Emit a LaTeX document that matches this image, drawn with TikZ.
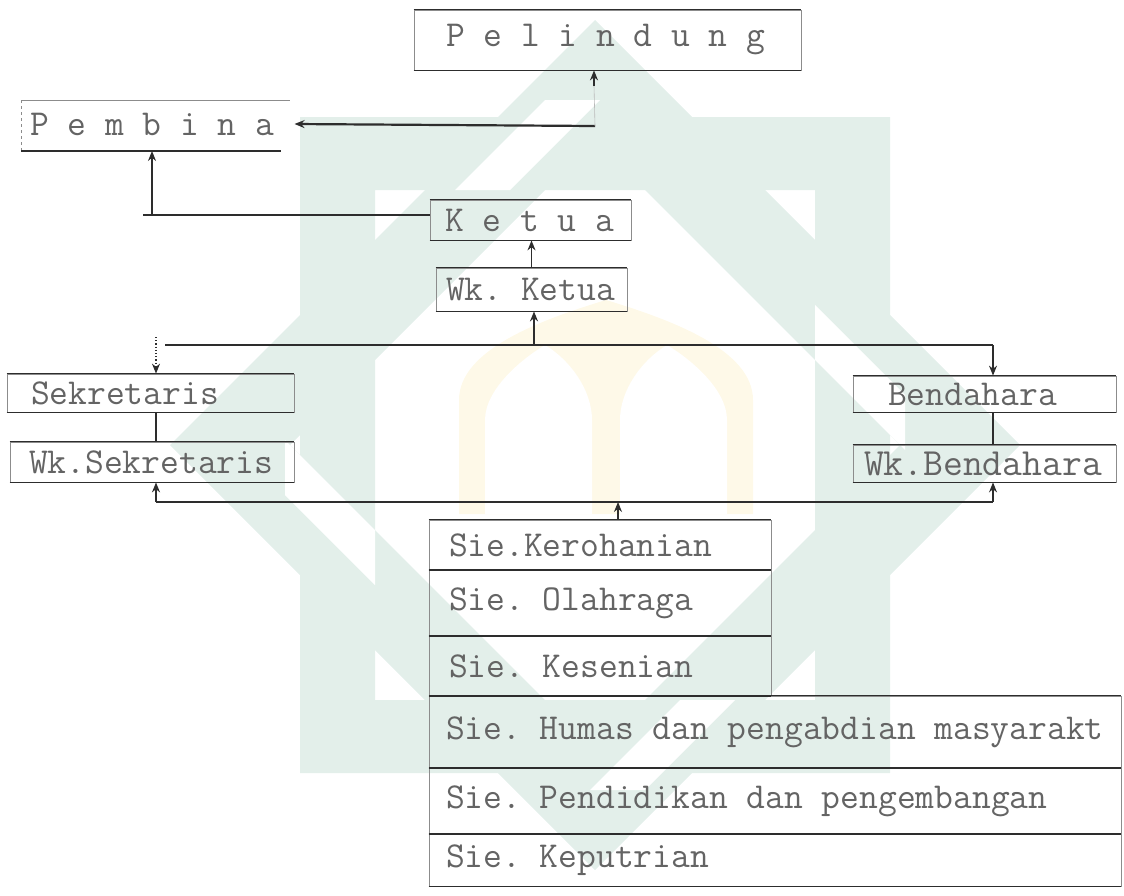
\documentclass[tikz,border=0pt]{standalone}
\usepackage{fontspec}
\usetikzlibrary{arrows.meta}
\definecolor{ink}{RGB}{100,100,100}
\definecolor{rulec}{RGB}{45,45,45}
\definecolor{sidec}{RGB}{140,140,140}
\definecolor{wmg}{RGB}{227,239,234}
\definecolor{wmy}{RGB}{254,249,232}
\tikzset{
  tt/.style={font=\ttfamily\frenchspacing\fontsize{#1}{#1}\selectfont,
    execute at begin node={\spaceskip=0.514em\relax}},
  box/.style={draw=sidec, line width=0.8pt, rectangle, text=ink, align=left,
    inner xsep=20pt, inner ysep=0pt, anchor=center, tt=36.5},
  hl/.style={draw=rulec, line width=1.5pt},
  conn/.style={draw=rulec, line width=1.2pt},
  arr/.style={conn, -{Stealth[length=10pt,width=8pt]}},
}
\begin{document}
\begin{tikzpicture}[x=1pt,y=-1pt]
\useasboundingbox (0,0) rectangle (1124,895);

% ---- watermark (faint logo) ----
\fill[wmg, even odd rule]
  (595,20) -- (1020,445) -- (595,870) -- (170,445) -- cycle
  (595,140) -- (900,445) -- (595,750) -- (290,445) -- cycle;
\fill[wmg, even odd rule]
  (300,117) rectangle (890,773)
  (375,190) rectangle (815,700);
\fill[white] (455,190) -- (545,100) -- (600,100) -- (510,190) -- cycle;
\fill[white] (815,305) -- (905,395) -- (905,450) -- (815,360) -- cycle;
\fill[white] (735,700) -- (645,790) -- (590,790) -- (680,700) -- cycle;
\fill[white] (375,585) -- (285,495) -- (285,440) -- (375,530) -- cycle;
\fill[wmy] (459,514) -- (459,400) .. controls (459,350) and (540,320) .. (606,300)
  .. controls (672,320) and (753,350) .. (753,400) -- (753,514) -- cycle;
\fill[white] (485,514) -- (485,420) .. controls (485,390) and (520,360) .. (545,345)
  .. controls (570,360) and (592,390) .. (592,420) -- (592,514) -- cycle;
\fill[white] (620,514) -- (620,420) .. controls (620,390) and (642,360) .. (667,345)
  .. controls (692,360) and (727,390) .. (727,420) -- (727,514) -- cycle;

% ---- nodes ----
\node[box, inner xsep=32pt, text width=323pt, minimum height=60pt] (pel) at (607.5,40) {P e l i n d u n g};
\node[tt=36.5, text=ink, inner ysep=0pt, inner xsep=20pt, anchor=west] (pem) at (10,124) {P e m b i n a};
\node[box, inner xsep=15pt, text width=171pt, minimum height=40pt] (ketua) at (530.5,220) {K e t u a};
\node[box, inner xsep=10pt, text width=171pt, minimum height=43pt] (wkketua) at (531.5,289.5) {Wk. Ketua};
\node[box, inner xsep=24pt, text width=239pt, minimum height=38pt] (sek) at (150.5,393) {Sekretaris};
\node[box, inner xsep=19pt, text width=246pt, minimum height=40pt] (wksek) at (152,462) {Wk.Sekretaris};
\node[box, inner xsep=35pt, text width=193pt, minimum height=36pt] (ben) at (984.5,394) {Bendahara};
\node[box, tt=38.5, inner xsep=11pt, text width=241pt, minimum height=37pt] (wkben) at (984.5,463.5) {Wk.Bendahara};
\node[box, text width=302pt, minimum height=50pt] (kero) at (600,545) {Sie.Kerohanian};
\node[box, text width=302pt, minimum height=66pt] (olah) at (600,603) {Sie. Olahraga};
\node[box, text width=302pt, minimum height=60pt] (seni) at (600,666) {Sie. Kesenian};
\node[box, inner xsep=17pt, text width=658pt, minimum height=72pt] (humas) at (775,732) {Sie. Humas dan pengabdian masyarakt};
\node[box, inner xsep=17pt, text width=658pt, minimum height=66pt] (pend) at (775,801) {Sie. Pendidikan dan pengembangan};
\node[box, inner xsep=17pt, text width=658pt, minimum height=52pt] (putri) at (775,860) {Sie. Keputrian};

% darker top / bottom rules
\foreach \n in {pel,ketua,wkketua,sek,wksek,ben,wkben,kero,olah,seni,humas,pend,putri}{
  \draw[hl] (\n.north west) -- (\n.north east);
  \draw[hl] (\n.south west) -- (\n.south east);
}
% Pembina frame
\coordinate (pemTL) at (21,100);
\coordinate (pemTR) at (290,100);
\coordinate (pemBL) at (21,151);
\coordinate (pemBR) at (281,151);
\draw[draw=sidec, line width=0.8pt] (pemTL) -- (pemTR);
\draw[draw=sidec, line width=0.8pt, dashed] (pemTL) -- (pemBL);
\draw[hl] (pemBL) -- (pemBR);

% ---- connectors ----
\coordinate (pj) at (595,126);
\coordinate (pju) at (594,86);
\draw[arr, line width=2.2pt] (pj) -- (pem.east);
\draw[draw=sidec!60, line width=0.6pt] (pj) -- (pju);
\draw[arr] (pju) -- (pel.south -| pju);

\coordinate (pemU) at (152,151);
\coordinate (kj) at (152,215);
\coordinate (kstub) at (143,215);
\draw[conn] (ketua.west |- kj) -- (kstub);
\draw[arr] (kj) -- (pemU);

\draw[arr] (wkketua.north) -- (ketua.south -| wkketua.north);

\coordinate (busL) at (165,345);
\coordinate (busR) at (993,345);
\coordinate (busM) at (534,345);
\coordinate (sx) at (156,337);
\draw[conn] (busL) -- (busR);
\draw[arr] (busM) -- (wkketua.south -| busM);
\draw[arr, dotted] (sx) -- (sek.north -| sx);
\draw[arr] (busR) -- (ben.north -| busR);

\draw[conn] (sek.south -| sx) -- (wksek.north -| sx);
\draw[conn] (ben.south -| busR) -- (wkben.north -| busR);

\coordinate (bbL) at (156,502);
\coordinate (bbR) at (993,502);
\coordinate (bbM) at (618,502);
\draw[conn] (bbL) -- (bbR);
\draw[arr] (bbL) -- (wksek.south -| bbL);
\draw[arr] (bbR) -- (wkben.south -| bbR);
\draw[arr] (kero.north -| bbM) -- (bbM);

\end{tikzpicture}
\end{document}
